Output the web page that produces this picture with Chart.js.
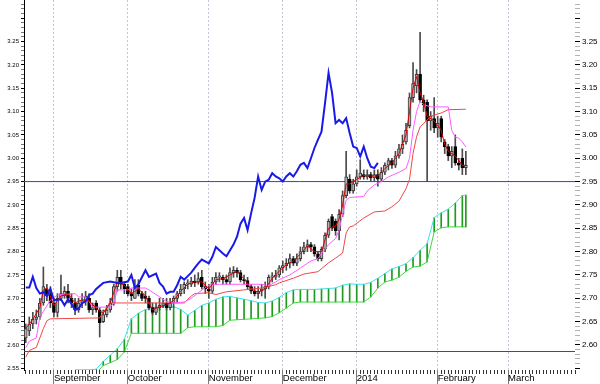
<!DOCTYPE html>
<html><head><meta charset="utf-8">
<script src="https://cdn.jsdelivr.net/npm/chart.js@4"></script>
<style>html,body{margin:0;padding:0;background:#fff}#wrap{width:600px;height:384px;position:relative}</style>
</head><body><div id="wrap"><canvas id="c" width="600" height="384"></canvas></div>
<script>
// ---- calendar (trading days) ----
const START_DATE = '2013-08-20';
const HOLIDAYS = ['2013-12-25'];
const N_DAYS = 160;
const MONTH_LABELS = ['September','October','November','December','2014','February','March'];
const Y_MIN = 2.5464, Y_MAX = 3.339;
const Y_LABEL_MAX = 3.25;
const X_MIN = -0.5, X_MAX = 156;

// ---- candles (one per trading day, index 0..125) ----
const open  = [2.615,2.630,2.645,2.655,2.660,2.690,2.720,2.710,2.690,2.670,2.700,2.705,2.715,2.700,2.690,2.675,2.690,2.695,2.700,2.675,
2.690,2.675,2.650,2.665,2.675,2.690,2.725,2.745,2.730,2.725,2.710,2.700,2.728,2.710,2.705,2.700,2.680,2.670,2.680,2.685,
2.690,2.680,2.690,2.700,2.710,2.720,2.730,2.730,2.737,2.735,2.745,2.725,2.720,2.715,2.735,2.745,2.745,2.740,2.735,2.755,
2.760,2.755,2.740,2.738,2.725,2.715,2.710,2.715,2.720,2.725,2.745,2.745,2.750,2.765,2.770,2.775,2.785,2.775,2.785,2.800,
2.810,2.815,2.810,2.795,2.785,2.805,2.835,2.875,2.865,2.845,2.880,2.920,2.955,2.930,2.945,2.960,2.965,2.960,2.965,2.958,
2.965,2.955,2.970,2.985,2.995,2.985,3.005,3.020,3.035,3.070,3.130,3.155,3.180,3.125,3.120,3.080,3.085,3.065,3.085,3.035,
3.025,3.005,3.025,2.990,3.000,2.980];
const high  = [2.645,2.660,2.670,2.675,2.700,2.767,2.730,2.725,2.700,2.710,2.750,2.725,2.730,2.710,2.700,2.700,2.710,2.715,2.710,2.690,
2.695,2.680,2.675,2.685,2.700,2.730,2.760,2.760,2.735,2.730,2.720,2.740,2.740,2.715,2.715,2.705,2.690,2.690,2.700,2.700,
2.700,2.700,2.705,2.715,2.730,2.735,2.740,2.745,2.750,2.755,2.760,2.735,2.730,2.745,2.755,2.755,2.750,2.750,2.765,2.768,
2.765,2.760,2.750,2.745,2.730,2.725,2.725,2.730,2.735,2.750,2.755,2.760,2.770,2.780,2.785,2.795,2.790,2.795,2.810,2.820,
2.825,2.820,2.815,2.800,2.810,2.840,2.870,2.880,2.870,2.890,2.930,3.015,2.965,2.955,2.975,2.997,2.975,2.975,2.970,2.975,
2.975,2.980,2.990,3.000,3.000,3.015,3.030,3.050,3.075,3.140,3.205,3.190,3.270,3.135,3.125,3.100,3.130,3.090,3.090,3.040,
3.030,3.025,3.050,3.000,3.020,3.015];
const low   = [2.605,2.620,2.635,2.645,2.655,2.685,2.695,2.680,2.660,2.660,2.695,2.700,2.690,2.680,2.665,2.670,2.680,2.685,2.670,2.665,
2.670,2.617,2.648,2.660,2.670,2.685,2.715,2.720,2.710,2.705,2.695,2.700,2.705,2.695,2.690,2.675,2.665,2.665,2.675,2.680,
2.675,2.675,2.680,2.690,2.705,2.710,2.720,2.725,2.725,2.730,2.720,2.710,2.700,2.710,2.730,2.735,2.730,2.730,2.730,2.745,
2.745,2.735,2.730,2.720,2.710,2.705,2.700,2.705,2.700,2.720,2.735,2.740,2.745,2.755,2.760,2.765,2.770,2.770,2.780,2.795,
2.800,2.800,2.790,2.780,2.780,2.800,2.830,2.845,2.835,2.825,2.875,2.915,2.925,2.925,2.940,2.955,2.955,2.955,2.950,2.950,
2.940,2.950,2.965,2.975,2.978,2.980,3.000,3.010,3.030,3.065,3.120,3.140,3.120,3.100,2.950,3.060,3.055,3.045,3.035,3.010,
2.995,2.980,2.985,2.975,2.965,2.965];
const close = [2.635,2.645,2.655,2.660,2.690,2.725,2.705,2.690,2.670,2.700,2.710,2.715,2.700,2.690,2.675,2.690,2.695,2.705,2.675,2.680,
2.675,2.648,2.665,2.675,2.690,2.725,2.745,2.730,2.720,2.710,2.705,2.725,2.710,2.700,2.700,2.680,2.670,2.680,2.685,2.690,
2.680,2.690,2.700,2.710,2.720,2.730,2.733,2.737,2.733,2.742,2.725,2.720,2.715,2.735,2.745,2.748,2.740,2.735,2.755,2.760,
2.755,2.740,2.738,2.725,2.715,2.710,2.715,2.720,2.725,2.745,2.748,2.750,2.765,2.770,2.775,2.785,2.775,2.785,2.800,2.810,
2.815,2.810,2.795,2.785,2.805,2.835,2.865,2.850,2.845,2.880,2.920,2.960,2.930,2.945,2.960,2.968,2.960,2.965,2.958,2.965,
2.955,2.970,2.985,2.995,2.985,3.005,3.020,3.030,3.060,3.130,3.160,3.180,3.125,3.115,3.080,3.090,3.065,3.075,3.045,3.025,
3.005,3.015,2.990,2.985,2.980,2.985];

// ---- indicator lines: [day index, value] ----
const tenkan = [[0,2.635],[2,2.655],[4,2.68],[5,2.718],[6,2.722],[8,2.685],[10,2.705],[12,2.71],[14,2.69],[16,2.697],[18,2.695],
[20,2.678],[22,2.668],[24,2.69],[26,2.735],[28,2.728],[30,2.71],[32,2.72],[34,2.705],[36,2.675],[38,2.682],[40,2.686],[42,2.695],
[44,2.715],[46,2.73],[48,2.735],[50,2.735],[52,2.72],[54,2.74],[56,2.742],[58,2.75],[60,2.757],[62,2.742],[64,2.72],[66,2.713],
[68,2.72],[70,2.743],[72,2.758],[74,2.772],[76,2.78],[78,2.795],[80,2.812],[82,2.80],[84,2.80],[86,2.85],[88,2.855],[89,2.87],
[90,2.90],[91,2.945],[92,2.945],[94,2.955],[96,2.963],[98,2.962],[100,2.962],[102,2.978],[104,2.99],[106,3.01],[108,3.05],
[109,3.10],[110,3.15],[111,3.175],[112,3.14],[113,3.12],[114,3.09],[116,3.08],[118,3.06],[119,3.03],[120,3.015],[122,3.005],
[124,2.985],[125,2.985]];
const kijun = [[0,2.594],[1,2.608],[3,2.615],[4,2.66],[5,2.672],[7,2.696],[9,2.707],[14,2.71],[15,2.703],[17,2.703],[18,2.693],
[19,2.681],[24,2.681],[25,2.69],[26,2.718],[29,2.718],[30,2.722],[34,2.722],[35,2.718],[38,2.703],[40,2.693],[42,2.69],[45,2.692],
[47,2.70],[49,2.712],[52,2.728],[55,2.73],[67,2.73],[69,2.727],[71,2.735],[72,2.74],[75,2.75],[78,2.765],[81,2.78],[83,2.785],
[84,2.796],[86,2.815],[88,2.828],[89,2.846],[90,2.88],[91,2.91],[92,2.916],[96,2.918],[97,2.93],[99,2.943],[101,2.95],[103,2.96],
[106,2.97],[108,2.978],[109,3.0],[110,3.06],[111,3.10],[112,3.122],[113,3.115],[115,3.11],[120,3.11],[121,3.06],[122,3.045],
[123,3.043],[124,3.035],[125,3.024]];
const slowLine = [[0,2.574],[1,2.588],[3,2.595],[5,2.635],[6,2.652],[7,2.656],[21,2.658],[22,2.67],[24,2.69],[45,2.69],[47,2.705],
[48,2.71],[52,2.712],[54,2.708],[57,2.714],[62,2.718],[67,2.722],[71,2.729],[72,2.733],[76,2.743],[79,2.752],[83,2.757],[86,2.776],
[88,2.786],[90,2.797],[91,2.84],[92,2.853],[93,2.855],[96,2.872],[99,2.885],[102,2.887],[104,2.896],[106,2.908],[108,2.935],
[109,2.955],[110,3.01],[111,3.046],[112,3.067],[114,3.082],[115,3.09],[118,3.097],[120,3.104],[125,3.105]];
const chikou = [[0,2.723],[1,2.723],[2,2.746],[3,2.722],[4,2.71],[5,2.713],[6,2.705],[7,2.72],[8,2.696],[10,2.698],[11,2.685],
[12,2.698],[13,2.688],[14,2.675],[15,2.678],[16,2.69],[17,2.693],[18,2.707],[19,2.71],[20,2.72],[22,2.733],[24,2.736],[26,2.733],
[27,2.733],[29,2.736],[30,2.75],[31,2.722],[32,2.73],[34,2.76],[35,2.746],[37,2.753],[38,2.733],[39,2.725],[40,2.71],[41,2.714],
[42,2.714],[43,2.728],[44,2.746],[45,2.74],[47,2.755],[48,2.765],[49,2.775],[50,2.783],[52,2.775],[53,2.789],[54,2.81],[55,2.803],
[56,2.796],[57,2.79],[59,2.815],[60,2.832],[61,2.86],[62,2.872],[63,2.846],[64,2.882],[65,2.915],[66,2.961],[67,2.932],[68,2.95],
[69,2.954],[70,2.968],[71,2.961],[72,2.957],[73,2.95],[74,2.961],[75,2.968],[76,2.961],[77,2.972],[78,2.986],[79,2.99],[80,2.979],
[81,3.0],[82,3.022],[83,3.04],[84,3.057],[85,3.118],[86,3.183],[87,3.14],[88,3.075],[89,3.082],[90,3.075],[91,3.086],[92,3.054],
[93,3.025],[94,3.022],[95,3.004],[96,3.025],[97,3.0],[98,2.982],[99,2.979],[100,2.99]];
// cloud, sampled every second day
const cloudIdx = [14,16,18,20,22,24,26,28,30,32,34,36,38,40,42,44,46,48,50,52,54,56,58,60,62,64,66,68,70,72,74,76,78,80,82,84,86,88,90,
92,94,96,98,100,102,104,106,108,110,112,114,116,118,120,122,124,125];
const senkouA = [2.547,2.547,2.547,2.548,2.565,2.578,2.592,2.612,2.656,2.668,2.676,2.68,2.682,2.682,2.682,2.676,2.664,2.674,2.685,2.69,
2.698,2.703,2.704,2.701,2.698,2.695,2.691,2.69,2.694,2.702,2.712,2.718,2.719,2.719,2.719,2.72,2.721,2.722,2.728,2.731,2.73,2.73,
2.734,2.743,2.753,2.763,2.768,2.774,2.787,2.803,2.817,2.873,2.883,2.891,2.904,2.92,2.921];
const senkouB = [null,null,null,2.54,2.556,2.562,2.569,2.585,2.625,2.625,2.625,2.625,2.625,2.625,2.625,2.625,2.637,2.639,2.639,2.639,
2.639,2.642,2.653,2.654,2.655,2.656,2.657,2.658,2.661,2.669,2.679,2.69,2.692,2.692,2.692,2.692,2.692,2.692,2.692,2.692,2.692,2.692,
2.703,2.722,2.735,2.739,2.745,2.758,2.767,2.769,2.778,2.842,2.851,2.853,2.853,2.853,2.853];
const hLines = [2.95, 2.586];

// ---- build calendar ticks ----
const days = [];
{ const d = new Date(START_DATE + 'T00:00:00Z');
  while (days.length < N_DAYS) {
    const wd = d.getUTCDay(), iso = d.toISOString().slice(0, 10);
    if (wd !== 0 && wd !== 6 && !HOLIDAYS.includes(iso)) days.push(iso);
    d.setUTCDate(d.getUTCDate() + 1);
  } }
const monthTicks = [];
for (let i = 1; i < days.length; i++) if (days[i].slice(5, 7) !== days[i - 1].slice(5, 7)) monthTicks.push(i - 1);

const idx = close.map((_, i) => i);
const isUp = i => close[i] >= open[i];
const pts = arr => arr.map(p => ({x: p[0], y: p[1]}));
const isMajor = v => Math.abs(v * 20 - Math.round(v * 20)) < 1e-6;
const FONT = "'Liberation Sans', Arial, sans-serif";
const noPad = s => { s.paddingTop = 0; s.paddingBottom = 0; s.paddingLeft = 0; s.paddingRight = 0; };
const yTicks = s => { const t = []; for (let k = Math.ceil(Y_MIN * 100); k <= Math.floor(Y_MAX * 100); k++) t.push({value: k / 100}); s.ticks = t; };

const lineDs = (label, data, color, width, order) => ({type: 'line', label, data, borderColor: color, borderWidth: width,
  pointRadius: 0, tension: 0, fill: false, order, xAxisID: 'x', yAxisID: 'y'});

const datasets = [
  lineDs('Chikou', pts(chikou), '#1a1ae8', 2, 1),
  lineDs('Tenkan', pts(tenkan), '#e00000', 1, 2),
  lineDs('Kijun', pts(kijun), '#ff5cff', 1, 3),
  lineDs('Slow', pts(slowLine), '#f04848', 1, 4),
  {type: 'bar', label: 'Body', data: idx.map(i => ({x: i, y: [open[i], close[i]]})), grouped: false, barThickness: 3,
   backgroundColor: c => isUp(c.dataIndex) ? '#b4b4b4' : '#000000', borderColor: c => isUp(c.dataIndex) ? '#383838' : '#000000',
   borderWidth: 1, borderSkipped: false, order: 5},
  {type: 'bar', label: 'Wick', data: idx.map(i => ({x: i, y: [low[i], high[i]]})), grouped: false, barThickness: 1,
   backgroundColor: '#4a4a4a', borderWidth: 0, order: 6},
  ...hLines.map((v, k) => lineDs('H' + k, [{x: X_MIN, y: v}, {x: X_MAX, y: v}], '#3c3cd2', 1, 7)),
  lineDs('SenkouA', cloudIdx.map((x, k) => ({x, y: senkouA[k]})), '#3ee0e8', 1, 8),
  lineDs('SenkouB', cloudIdx.map((x, k) => ({x, y: senkouB[k]})).filter(p => p.y !== null), '#3cd83c', 1, 9),
  {type: 'bar', label: 'Cloud', data: cloudIdx.map((x, k) => senkouB[k] === null ? null : ({x, y: [senkouB[k], senkouA[k]]})).filter(Boolean),
   grouped: false, barThickness: 1, backgroundColor: '#1f9a1f', borderWidth: 0, order: 10}
];

new Chart(document.getElementById('c'), {
  type: 'bar',
  data: {datasets},
  options: {
    responsive: false, devicePixelRatio: 1, animation: false,
    layout: {padding: 0},
    plugins: {legend: {display: false}, tooltip: {enabled: false}},
    scales: {
      xd: {type: 'linear', position: 'bottom', weight: 0, min: X_MIN, max: X_MAX, offset: false,
        afterBuildTicks: s => { const t = []; for (let i = 0; i <= X_MAX; i++) t.push({value: i}); s.ticks = t; },
        afterFit: s => { s.height = 0; noPad(s); },
        ticks: {display: false, autoSkip: false},
        grid: {drawOnChartArea: false, drawTicks: true, tickLength: 4, tickColor: '#333', offset: false},
        border: {display: false}},
      x: {type: 'linear', position: 'bottom', weight: 1, min: X_MIN, max: X_MAX, offset: false,
        afterBuildTicks: s => { s.ticks = monthTicks.filter(v => v > X_MIN && v < X_MAX).map(v => ({value: v})); },
        afterFit: s => { s.height = 14; noPad(s); },
        ticks: {autoSkip: false, maxRotation: 0, align: 'start', padding: -11, color: '#000',
          font: {family: FONT, size: 9.5},
          callback: (v, i) => MONTH_LABELS[i] || ''},
        grid: {drawOnChartArea: true, color: '#c4c4d4', tickColor: '#7a7a7a', tickLength: 14, offset: false, tickBorderDash: []},
        border: {display: false, dash: [2, 2]}},
      y: {type: 'linear', position: 'left', min: Y_MIN, max: Y_MAX,
        afterBuildTicks: yTicks,
        afterFit: s => { s.width = 24; noPad(s); },
        ticks: {autoSkip: false, padding: 2, color: '#000', font: {family: FONT, size: 6},
          callback: v => (isMajor(v) && v <= Y_LABEL_MAX + 1e-6) ? v.toFixed(2) : ''},
        grid: {drawOnChartArea: false, tickLength: 3, tickColor: c => isMajor(c.tick.value) ? '#000' : '#777'},
        border: {display: true, color: '#000', width: 1}},
      yr: {type: 'linear', position: 'right', min: Y_MIN, max: Y_MAX,
        afterBuildTicks: yTicks,
        afterFit: s => { s.width = 25; noPad(s); },
        ticks: {autoSkip: false, padding: 2, color: '#000', font: {family: FONT, size: 8},
          callback: v => (isMajor(v) && v > 2.575 && v <= Y_LABEL_MAX + 1e-6) ? v.toFixed(2) : ''},
        grid: {drawOnChartArea: false, tickLength: 5, tickColor: c => isMajor(c.tick.value) ? '#000' : 'rgba(0,0,0,0.3)'},
        border: {display: false}}
    }
  }
});
</script></body></html>
